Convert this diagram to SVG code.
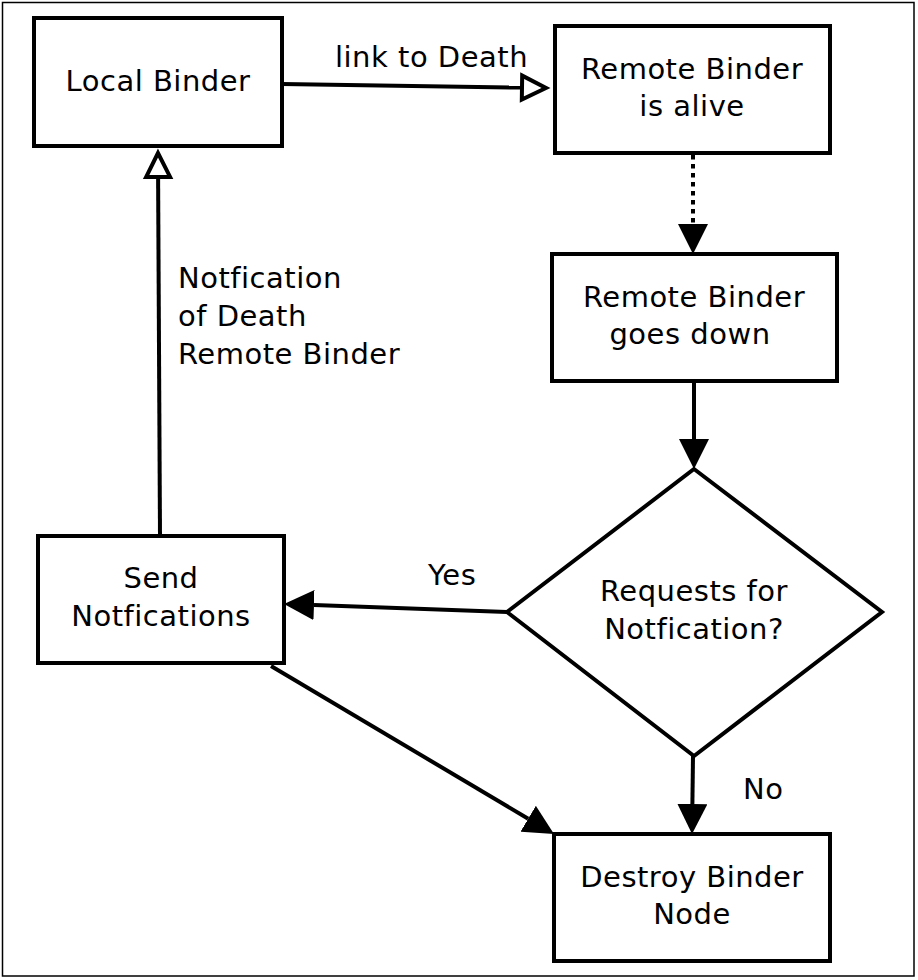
<svg xmlns="http://www.w3.org/2000/svg" width="918" height="980" viewBox="0 0 918 980">
<style>
.box{fill:#fff;stroke:#000;stroke-width:4}
.t{font-family:"DejaVu Sans",sans-serif;font-size:29px;letter-spacing:0.5px;fill:#000;text-anchor:middle}
.l{font-family:"DejaVu Sans",sans-serif;font-size:29px;letter-spacing:0.5px;fill:#000}
.c{fill:none;stroke:#000;stroke-width:4}
</style>
<defs>
<marker id="fa" markerUnits="userSpaceOnUse" markerWidth="30" markerHeight="30" viewBox="0 0 30 30" refX="0" refY="15" orient="auto">
<path d="M0,0 L30,15 L0,30 z" fill="#000"/>
</marker>
<marker id="oa" markerUnits="userSpaceOnUse" markerWidth="32" markerHeight="32" viewBox="0 0 32 32" refX="3" refY="16" orient="auto">
<path d="M3,4 L27,16 L3,28 z" fill="#fff" stroke="#000" stroke-width="4"/>
</marker>
</defs>
<rect x="2.5" y="2.5" width="911.5" height="973.5" fill="#fff" stroke="#000" stroke-width="1.5"/>
<g id="connectors">
<path class="c" d="M282,84 L522,87.6" marker-end="url(#oa)"/>
<path class="c" d="M693,155 L693,224" stroke-dasharray="4.5 4.5" marker-end="url(#fa)"/>
<path class="c" d="M694,381 L694,439" marker-end="url(#fa)"/>
<path class="c" d="M507,612 L314,605.1" marker-end="url(#fa)"/>
<path class="c" d="M160,536 L158.1,177" marker-end="url(#oa)"/>
<path class="c" d="M271,666 L528.2,818.7" marker-end="url(#fa)"/>
<path class="c" d="M693,756 L692.4,804" marker-end="url(#fa)"/>
<text class="l" x="335" y="67">link to Death</text>
<text class="l" x="428" y="585">Yes</text>
<text class="l" x="743" y="799">No</text>
<text class="l" x="178" y="288">Notfication</text>
<text class="l" x="178" y="326">of Death</text>
<text class="l" x="178" y="364">Remote Binder</text>
</g>
<g id="local-binder">
<rect class="box" x="34" y="18" width="248" height="128"/>
<text class="t" x="158" y="91">Local Binder</text>
</g>
<g id="remote-alive">
<rect class="box" x="555" y="26" width="275" height="127"/>
<text class="t" x="692" y="79">Remote Binder</text>
<text class="t" x="692" y="116">is alive</text>
</g>
<g id="remote-down">
<rect class="box" x="552" y="254" width="285" height="127"/>
<text class="t" x="694" y="307">Remote Binder</text>
<text class="t" x="690" y="344">goes down</text>
</g>
<g id="requests">
<path class="box" d="M694,469 L882,612 L694,756 L507,612 z"/>
<text class="t" x="694" y="601">Requests for</text>
<text class="t" x="694" y="639">Notfication?</text>
</g>
<g id="send">
<rect class="box" x="38" y="536" width="246" height="127"/>
<text class="t" x="161" y="588">Send</text>
<text class="t" x="161" y="626">Notfications</text>
</g>
<g id="destroy">
<rect class="box" x="554" y="834" width="276" height="127"/>
<text class="t" x="692" y="887">Destroy Binder</text>
<text class="t" x="692" y="924">Node</text>
</g>
</svg>
